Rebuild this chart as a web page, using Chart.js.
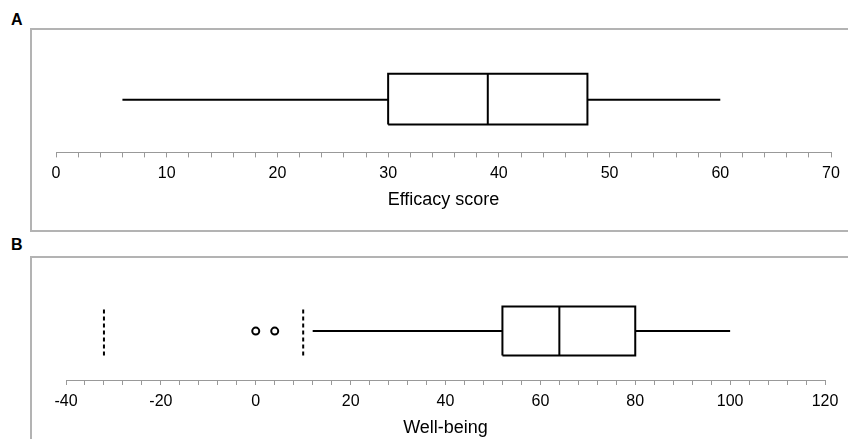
<!DOCTYPE html>
<html>
<head>
<meta charset="utf-8">
<script src="https://cdn.jsdelivr.net/npm/chart.js@4"></script>
<style>
    body { margin: 0; background: #fff; width: 848px; height: 439px; overflow: hidden; position: relative; font-family: 'Liberation Sans', Arial, sans-serif; }
    .frame { position: absolute; left: 30px; width: 830px; border: 2px solid #b3b3b3; box-sizing: border-box; }
    .panel-label { position: absolute; left: 11px; font-weight: bold; font-size: 16px; line-height: 16px; color: #000; }
    canvas { position: absolute; left: 31px; }
</style>
</head>
<body>
<div class="panel-label" style="top:12px">A</div>
<div class="frame" style="top:28px;height:204px"></div>
<canvas id="chartA" width="817" height="202" style="top:29px"></canvas>

<div class="panel-label" style="top:237px">B</div>
<div class="frame" style="top:256px;height:200px"></div>
<canvas id="chartB" width="817" height="182" style="top:257px"></canvas>

<script>
// Dados
const efficacyStats = [6, 30, 39, 48, 60];      // min, Q1, mediana, Q3, max
const efficacyRange = [0, 70];
const wellbeingStats = [12, 52, 64, 80, 100];
const wellbeingOutliers = [0, 4];
const wellbeingFences = [-32, 10];              // linhas tracejadas
const wellbeingRange = [-40, 120];
const axisTitles = ['Efficacy score', 'Well-being'];

Chart.defaults.font.family = "'Liberation Sans', Arial, sans-serif";
Chart.defaults.color = '#000';

function lineDs(points, dash) {
    return {
        data: points,
        showLine: true,
        pointRadius: 0,
        borderColor: '#000',
        borderWidth: 2,
        borderDash: dash || [],
        borderJoinStyle: 'miter',
        fill: false
    };
}

// caixa + bigodes a partir de [min, q1, med, q3, max]
function boxDatasets(stats, lo, mid, hi) {
    const [min, q1, med, q3, max] = stats;
    return [
        lineDs([{x: q1, y: lo}, {x: q3, y: lo}, {x: q3, y: hi}, {x: q1, y: hi}, {x: q1, y: lo}]),
        lineDs([{x: med, y: lo}, {x: med, y: hi}]),
        lineDs([{x: min, y: mid}, {x: q1, y: mid}]),
        lineDs([{x: q3, y: mid}, {x: max, y: mid}])
    ];
}

function makeChart(id, datasets, range, step, major, title, pad, tickPad, titleFont, titlePad) {
    return new Chart(document.getElementById(id), {
        type: 'scatter',
        data: { datasets },
        options: {
            responsive: false,
            animation: false,
            devicePixelRatio: 1,
            layout: { padding: pad },
            plugins: { legend: { display: false }, tooltip: { enabled: false } },
            scales: {
                x: {
                    type: 'linear',
                    min: range[0],
                    max: range[1],
                    border: { display: true, color: '#999', width: 1 },
                    grid: { drawOnChartArea: false, drawTicks: true, tickLength: 5, color: '#999' },
                    ticks: {
                        stepSize: step,
                        maxTicksLimit: 100,
                        autoSkip: false,
                        maxRotation: 0,
                        padding: tickPad,
                        font: { size: 16, lineHeight: 1 },
                        callback: (v) => (v % major === 0 ? String(v) : '')
                    },
                    title: { display: true, text: title, font: titleFont, padding: titlePad }
                },
                y: { display: false, min: 0, max: 1 }
            }
        }
    });
}

// Painel A
makeChart('chartA', boxDatasets(efficacyStats, 0.275, 0.52, 0.775),
    efficacyRange, 2, 10, axisTitles[0],
    { left: 25, right: 17, top: 22, bottom: 20 }, 8,
    { size: 18, lineHeight: 1.2 }, { top: 0, bottom: 0 });

// Painel B
const dsB = boxDatasets(wellbeingStats, 0.235, 0.47, 0.706);
wellbeingFences.forEach(f => dsB.push(lineDs([{x: f, y: 0.235}, {x: f, y: 0.706}], [4, 3])));
dsB.push({
    data: wellbeingOutliers.map(v => ({x: v, y: 0.47})),
    pointRadius: 3.5,
    pointBorderWidth: 2,
    pointBackgroundColor: '#fff',
    pointBorderColor: '#000'
});
makeChart('chartB', dsB, wellbeingRange, 4, 20, axisTitles[1],
    { left: 35, right: 23, top: 19, bottom: 1 }, 9,
    { size: 18, lineHeight: 1 }, { top: 0, bottom: 1 });
</script>
</body>
</html>
